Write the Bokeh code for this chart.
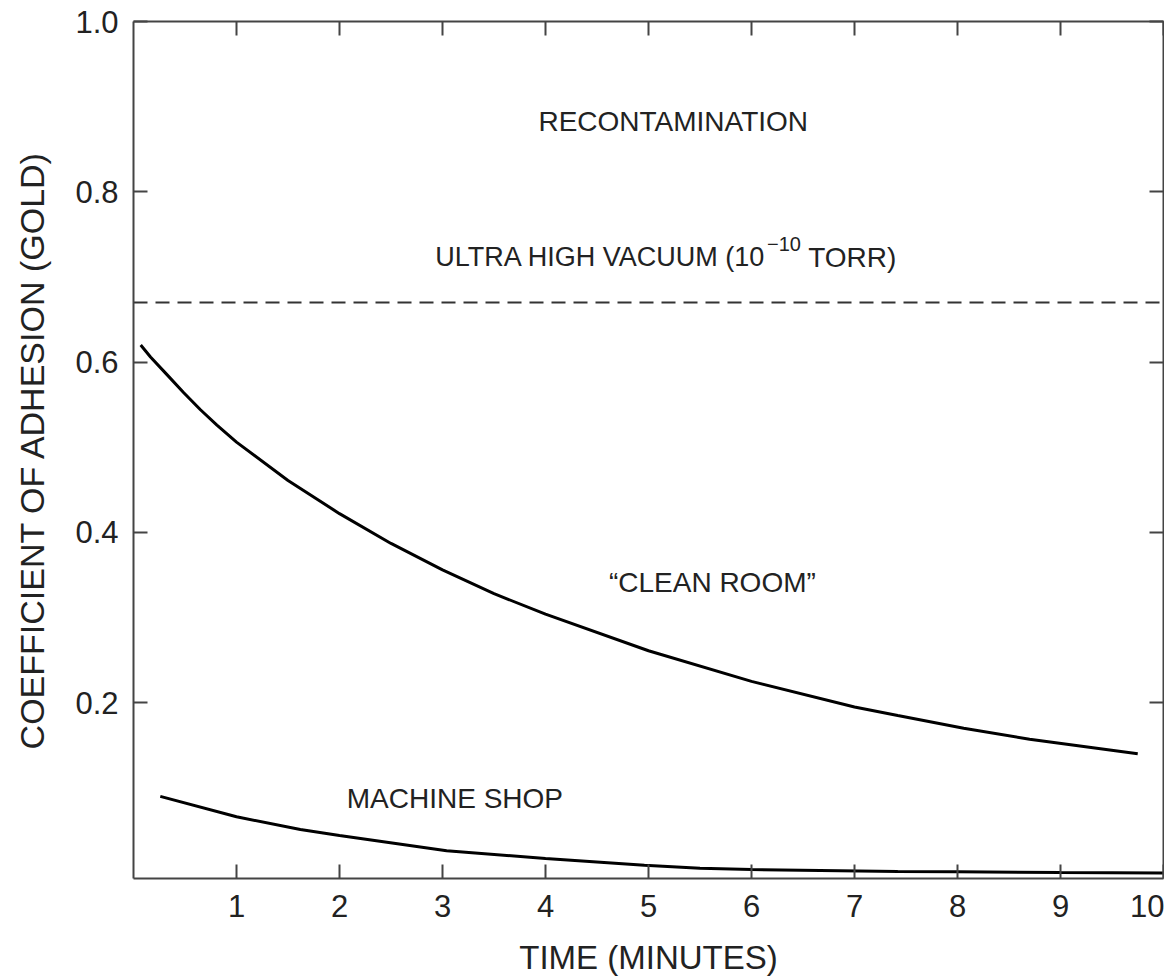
from bokeh.plotting import figure
from bokeh.models import (Range1d, FixedTicker, LinearAxis, Label,
                          PrintfTickFormatter, CustomJSTickFormatter)
from bokeh.embed import file_html
from bokeh.resources import INLINE

# ---- data ----
clean_t = [0.07, 0.165, 0.327, 0.488, 0.65, 0.81, 1.0, 1.5, 2.0, 2.5, 3.0, 3.5, 4.0, 5.0,
           6.0, 7.0, 7.42, 8.06, 8.7, 9.75]
clean_v = [0.620, 0.606, 0.585, 0.564, 0.544, 0.526, 0.506, 0.461, 0.422, 0.387, 0.356, 0.328,
           0.304, 0.261, 0.225, 0.195, 0.185, 0.170, 0.157, 0.140]

shop_t = [0.26, 1.0, 1.62, 2.0, 3.04, 4.0, 4.96, 5.5, 6.0, 7.42, 8.0, 9.0, 10.0]
shop_v = [0.090, 0.066, 0.051, 0.044, 0.026, 0.017, 0.009, 0.0056, 0.004, 0.0018, 0.0013, 0.0005, 0.0]

uhv_level = 0.670

x_ticks = [1, 2, 3, 4, 5, 6, 7, 8, 9, 10]
y_ticks = [0.2, 0.4, 0.6, 0.8, 1.0]

FONT = "Liberation Sans"
AXC = "#444444"
TXT = "#222222"

p = figure(width=1164, height=978, output_backend="svg", toolbar_location=None,
           x_range=Range1d(0, 10), y_range=Range1d(-0.0065, 1.0),
           x_axis_location=None, y_axis_location=None,
           min_border_left=133, min_border_right=1, min_border_top=21, min_border_bottom=100)
p.grid.visible = False
p.outline_line_color = None
p.background_fill_color = "white"
p.border_fill_color = "white"


def style_axis(ax, labels=True):
    ax.axis_line_color = AXC
    ax.axis_line_width = 2
    ax.major_tick_line_color = AXC
    ax.major_tick_line_width = 2
    ax.major_tick_in = 14
    ax.major_tick_out = 0
    ax.minor_tick_line_color = None
    ax.major_label_text_font = FONT
    ax.major_label_text_color = TXT
    ax.axis_label_text_font = FONT
    ax.axis_label_text_font_style = "normal"
    ax.axis_label_text_color = TXT
    if not labels:
        ax.formatter = CustomJSTickFormatter(code="return ''")
        ax.major_label_text_font_size = "1px"
        ax.major_label_standoff = 0


bottom = LinearAxis(ticker=FixedTicker(ticks=x_ticks), axis_label="TIME (MINUTES)")
style_axis(bottom)
bottom.major_label_text_font_size = "31px"
bottom.major_label_standoff = 16
bottom.major_label_text_line_height = 0.9
bottom.axis_label_text_font_size = "33px"
bottom.axis_label_text_line_height = 0.9
bottom.axis_label_standoff = 19
p.add_layout(bottom, "below")

left = LinearAxis(ticker=FixedTicker(ticks=y_ticks), axis_label="COEFFICIENT OF ADHESION (GOLD)",
                  formatter=PrintfTickFormatter(format="%.1f"))
style_axis(left)
left.major_label_text_font_size = "31px"
left.major_label_standoff = 15
left.axis_label_text_font_size = "34px"
left.axis_label_standoff = 21
p.add_layout(left, "left")

top = LinearAxis(ticker=FixedTicker(ticks=x_ticks))
style_axis(top, labels=False)
p.add_layout(top, "above")

right = LinearAxis(ticker=FixedTicker(ticks=y_ticks))
style_axis(right, labels=False)
p.add_layout(right, "right")

# curves
p.line(clean_t, clean_v, line_color="black", line_width=3)
p.line(shop_t, shop_v, line_color="black", line_width=3)
p.line([0, 10], [uhv_level, uhv_level], line_color="#333333", line_width=2, line_dash="14 8")


def lab(x, y, text, size, align="left", baseline="middle"):
    p.add_layout(Label(x=x, y=y, text=text, text_font=FONT, text_font_size=size,
                       text_color=TXT, text_align=align, text_baseline=baseline))


lab(5.24, 0.883, "RECONTAMINATION", "28px", align="center")
lab(2.93, 0.7234, "ULTRA HIGH VACUUM (10", "27px")
lab(6.15, 0.7387, "\u221210", "20px")
lab(6.55, 0.7234, " TORR)", "28px")
lab(5.62, 0.341, "\u201cCLEAN ROOM\u201d", "28px", align="center")
lab(3.12, 0.0875, "MACHINE SHOP", "28px", align="center")

open("out.html", "w").write(file_html(p, INLINE))
